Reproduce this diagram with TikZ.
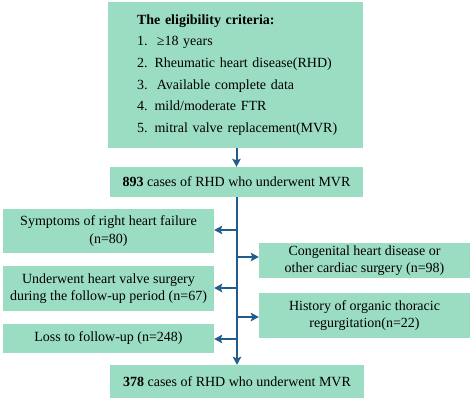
\documentclass[tikz,border=0pt]{standalone}
\usepackage{fontspec}
\setmainfont{Liberation Serif}
\usetikzlibrary{arrows.meta}
\definecolor{boxgreen}{RGB}{155,221,195}
\definecolor{lineblue}{RGB}{34,92,142}
\begin{document}
\begin{tikzpicture}[x=1pt,y=-1pt,
  box/.style={fill=boxgreen,draw=none,inner sep=0pt,align=center,font=\fontsize{14}{17.5}\selectfont},
  conn/.style={draw=lineblue,line width=2pt,-{Stealth[length=8pt,width=8.5pt,inset=1.5pt]}}]
\useasboundingbox (0,0) rectangle (474,402);
\node[box,minimum width=255pt,minimum height=146pt,align=left,text width=230pt,font=\fontsize{14}{21.7}\selectfont] (crit) at (235.5,75)
  {\leftskip=16.5pt\textbf{The eligibility criteria:}\\
   1.\ \ ≥18 years\\
   2. Rheumatic heart disease(RHD)\\
   3.\ \ Available complete data\\
   4. mild/moderate FTR\\
   5. mitral valve replacement(MVR)\par};
\node[box,minimum width=253pt,minimum height=30pt] (mid) at (236.5,182) {\textbf{893} cases of RHD who underwent MVR};
\node[box,minimum width=254pt,minimum height=33pt] (fin) at (237,381.5) {\textbf{378} cases of RHD who underwent MVR};
\node[box,minimum width=211pt,minimum height=44pt] (l1) at (108.5,231) {Symptoms of right heart failure\\(n=80)};
\node[box,minimum width=211pt,minimum height=45pt] (l2) at (108.5,288.5) {Underwent heart valve surgery\\during the follow-up period (n=67)};
\node[box,minimum width=211pt,minimum height=29pt] (l3) at (108.5,338.5) {Loss to follow-up (n=248)};
\node[box,minimum width=211pt,minimum height=35pt] (r1) at (364.5,260.5) {Congenital heart disease or\\other cardiac surgery (n=98)};
\node[box,minimum width=211pt,minimum height=45pt] (r2) at (364.5,315.5) {History of organic thoracic\\regurgitation(n=22)};
\draw[conn] (crit.south -| 236.5,0) -- (mid.north -| 236.5,0);
\draw[conn] (mid.south -| 237,0) -- (fin.north -| 237,0);
\coordinate (b1) at (237,230);
\coordinate (b2) at (237,257);
\coordinate (b3) at (237,288);
\coordinate (b4) at (237,317);
\coordinate (b5) at (237,339);
\draw[conn] (b1) -- (b1 -| l1.east);
\draw[conn] (b2) -- (b2 -| r1.west);
\draw[conn] (b3) -- (b3 -| l2.east);
\draw[conn] (b4) -- (b4 -| r2.west);
\draw[conn] (b5) -- (b5 -| l3.east);
\end{tikzpicture}
\end{document}
